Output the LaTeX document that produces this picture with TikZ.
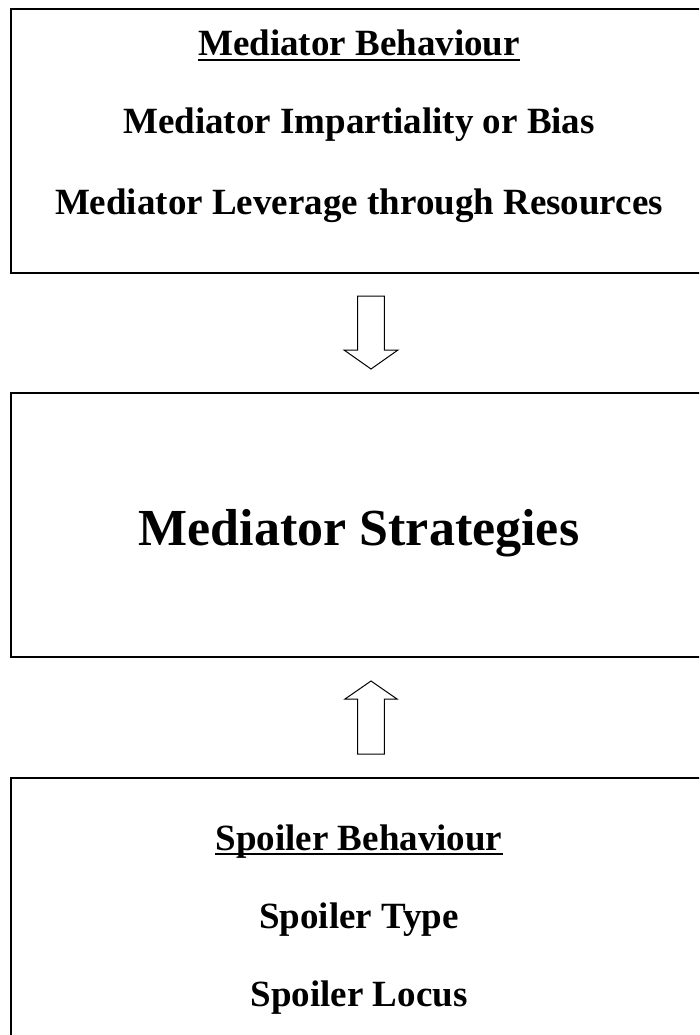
\documentclass[tikz,border=0pt]{standalone}
\usepackage{fontspec}
\setmainfont{Liberation Serif}
\begin{document}
\begin{tikzpicture}[x=1pt,y=-1pt,
  box/.style={draw, line width=2.2pt, minimum width=696pt, minimum height=264pt, inner sep=0pt},
  txt/.style={font=\bfseries\fontsize{37}{37}\selectfont, anchor=base, inner sep=0pt},
  bigtxt/.style={font=\bfseries\fontsize{52}{52}\selectfont, anchor=base, inner sep=0pt},
  uline/.style={line width=2.2pt},
  blockarrow/.style={draw, line width=1pt, line join=miter}]
\useasboundingbox (0,0) rectangle (699,1035);
\clip (0,0) rectangle (699,1035);
% boxes
\node[box] (b1) at (359,141) {};
\node[box] (b2) at (359,525) {};
\node[box] (b3) at (359,910) {};
% box 1 text
\node[txt] (t1) at (359,56) {Mediator Behaviour};
\draw[uline] ([yshift=-4pt]t1.base west) -- ([yshift=-4pt]t1.base east);
\node[txt] (t2) at (359,134) {Mediator Impartiality or Bias};
\node[txt] (t3) at (359,214) {Mediator Leverage through Resources};
% box 2 text
\node[bigtxt] (s1) at (359,545) {Mediator Strategies};
% box 3 text
\node[txt] (p1) at (359,850) {Spoiler Behaviour};
\draw[uline] ([yshift=-4pt]p1.base west) -- ([yshift=-4pt]p1.base east);
\node[txt] (p2) at (359,928) {Spoiler Type};
\node[txt] (p3) at (359,1006) {Spoiler Locus};
% block arrows
\draw[blockarrow] (357.7,296) -- (384.3,296) -- (384.3,350) -- (398,350) -- (371,369) -- (344,350) -- (357.7,350) -- cycle;
\draw[blockarrow] (371,681) -- (397,699) -- (384.3,699) -- (384.3,754) -- (357.7,754) -- (357.7,699) -- (345,699) -- cycle;
\end{tikzpicture}
\end{document}
